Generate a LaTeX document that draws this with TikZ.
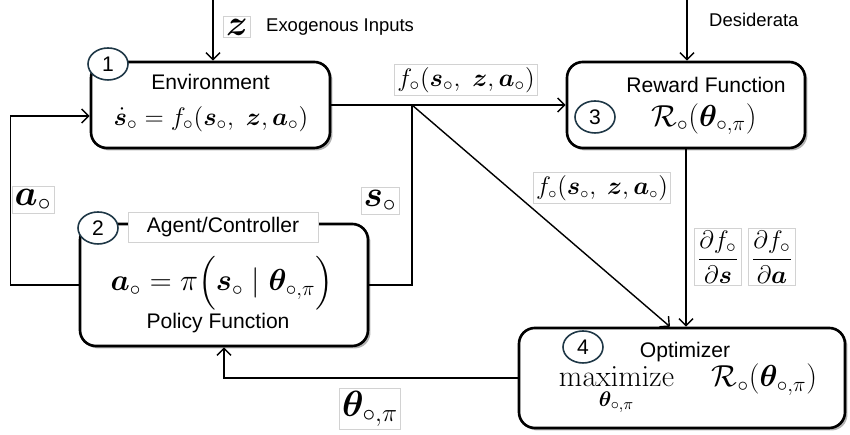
\documentclass[tikz,border=0pt]{standalone}
\usepackage{amsmath,amssymb,bm}
\usepackage[no-math]{fontspec}
\setmainfont{Liberation Sans}
\usetikzlibrary{arrows.meta,shapes.geometric,shadows}

\definecolor{numcol}{RGB}{30,55,70}
\newcommand{\fs}[1]{\fontsize{#1}{1.2\dimexpr#1pt\relax}\selectfont}

\begin{document}
\begin{tikzpicture}[
  blk/.style={draw, line width=1.5pt, rounded corners=9pt, fill=white,
    drop shadow={shadow xshift=1.4pt, shadow yshift=-1.4pt, fill=gray!60, opacity=1}},
  num/.style={ellipse, draw=numcol, line width=0.9pt, fill=white,
    minimum width=0.8cm, minimum height=0.64cm, inner sep=0pt, font=\large},
  lbl/.style={draw=gray!35, fill=white, line width=0.4pt, inner sep=1.5pt},
  wire/.style={line width=0.8pt},
  arr/.style={wire, -{Straight Barb[length=4pt,width=8pt]}},
]
\useasboundingbox (0,0) rectangle (17,8.7);

% blocks
\node[blk, minimum width=4.78cm, minimum height=1.72cm] (env) at (4.21,6.6) {};
\node[blk, minimum width=4.76cm, minimum height=1.72cm] (rew) at (13.72,6.6) {};
\node[blk, minimum width=5.76cm, minimum height=2.44cm] (agent) at (4.48,3.0) {};
\node[blk, minimum width=6.52cm, minimum height=2.0cm] (opt) at (13.64,1.14) {};

% block contents
\node[font=\large] (envname) at (4.21,7.06) {Environment};
\node[font=\fs{15.6}] (envfn) at (4.22,6.32) {$\dot{\bm s}_\circ = f_\circ(\bm s_\circ,\ \bm z, \bm a_\circ)$};
\node[font=\large] (rewname) at (14.12,7.0) {Reward Function};
\node[font=\fs{18.5}] (rewfn) at (14.08,6.32) {$\mathcal{R}_\circ(\bm\theta_{\circ,\pi})$};
\node[font=\fs{17}] (agentfn) at (4.44,3.04) {$\bm a_\circ = \pi\Bigl(\bm s_\circ \mid \bm\theta_{\circ,\pi}\Bigr)$};
\node[font=\large] (agentsub) at (4.36,2.24) {Policy Function};
\node[font=\large] (optname) at (13.7,1.66) {Optimizer};
\node[font=\fs{18.5}] (optfn) at (13.76,0.9) {$\displaystyle\operatorname*{maximize}_{\bm\theta_{\circ,\pi}} \quad \mathcal{R}_\circ(\bm\theta_{\circ,\pi})$};

% connectors
\coordinate (zin) at (4.26,8.7);
\coordinate (desin) at (13.74,8.7);
\coordinate (jn) at (8.24,6.6);
\draw[arr] (zin) -- (zin |- env.north);
\draw[arr] (desin) -- (desin |- rew.north);
\draw[arr] (env.east) -- (rew.west);
\draw[wire] (jn) |- (agent.east);
\draw[arr] (jn) -- ([xshift=-0.24cm]opt.north);
\draw[arr] (rew.south) -- (rew.south |- opt.north);
\draw[arr] (agent.west) -- ++(-1.36,0) |- ([yshift=-0.22cm]env.west);
\draw[arr] (opt.west) -| (agent.south);

% title tab of the agent block
\node[lbl, font=\large, minimum width=3.8cm, minimum height=0.6cm] (agentname) at (4.46,4.16) {Agent/Controller};

% numbers
\node[num] (n1) at (2.16,7.42) {1};
\node[num] (n2) at (1.96,4.14) {2};
\node[num] (n3) at (11.9,6.36) {3};
\node[num] (n4) at (11.66,1.76) {4};

% signal labels
\node[lbl, font=\fs{20}] (zlbl) at (4.74,8.16) {$\bm z$};
\node[anchor=west, font=\fs{10.5}] (zname) at (5.2,8.16) {Exogenous Inputs};
\node[anchor=west, font=\fs{10.5}] (desname) at (14.06,8.3) {Desiderata};
\node[lbl, font=\fs{15.5}] (flbl) at (9.32,7.1) {$f_\circ(\bm s_\circ,\ \bm z, \bm a_\circ)$};
\node[lbl, font=\fs{13.5}] (fdiag) at (12.04,4.94) {$f_\circ(\bm s_\circ,\ \bm z, \bm a_\circ)$};
\node[lbl, font=\fs{21}] (slbl) at (7.6,4.68) {$\bm s_\circ$};
\node[lbl, font=\fs{21}] (albl) at (0.66,4.7) {$\bm a_\circ$};
\node[lbl, font=\fs{21}] (thlbl) at (7.4,0.52) {$\bm\theta_{\circ,\pi}$};
\node[lbl, font=\fs{15.5}] (dslbl) at (14.36,3.56) {$\dfrac{\partial f_\circ}{\partial \bm s}$};
\node[lbl, font=\fs{15.5}] (dalbl) at (15.44,3.56) {$\dfrac{\partial f_\circ}{\partial \bm a}$};
\end{tikzpicture}
\end{document}
